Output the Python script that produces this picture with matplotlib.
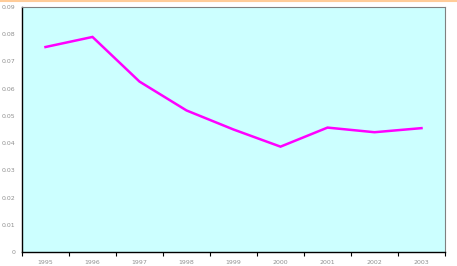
import matplotlib
matplotlib.use('Agg')
from matplotlib import pyplot as plt
from matplotlib.lines import Line2D

# Data
years = ['1995', '1996', '1997', '1998', '1999', '2000', '2001', '2002', '2003']
values = [0.0753, 0.0790, 0.0626, 0.0520, 0.0450, 0.0387, 0.0457, 0.0440, 0.0455]
y_ticks = [0, 0.01, 0.02, 0.03, 0.04, 0.05, 0.06, 0.07, 0.08, 0.09]
y_labels = ['0', '0.01', '0.02', '0.03', '0.04', '0.05', '0.06', '0.07', '0.08', '0.09']

fig = plt.figure(figsize=(4.57, 2.66), dpi=100)
ax = fig.add_axes([22 / 457, 14 / 266, 423 / 457, 245 / 266])
ax.set_facecolor('#CCFFFF')

x = list(range(len(years)))
ax.plot(x, values, color='#FF00FF', linewidth=1.8, solid_joinstyle='miter')

ax.set_xlim(-0.5, len(years) - 0.5)
ax.set_ylim(0, 0.09)

# category ticks sit on the boundaries, labels in the middle
ax.set_xticks([i - 0.5 for i in range(len(years) + 1)])
ax.set_xticklabels([])
ax.set_xticks(x, minor=True)
ax.set_xticklabels(years, minor=True, fontsize=4.5, color='#909090')
ax.tick_params(axis='x', which='major', direction='out', length=3, width=0.8, color='black')
ax.tick_params(axis='x', which='minor', length=0, pad=6)

ax.set_yticks(y_ticks)
ax.set_yticklabels(y_labels, fontsize=4.5, color='#909090')
ax.tick_params(axis='y', length=0, pad=5)

ax.spines['left'].set_color('black')
ax.spines['bottom'].set_color('black')
ax.spines['left'].set_linewidth(1)
ax.spines['bottom'].set_linewidth(1)
for side in ['top', 'right']:
    ax.spines[side].set_color('#808080')
    ax.spines[side].set_linestyle((0, (1, 1)))
    ax.spines[side].set_linewidth(0.8)

# thin orange strip along the very top of the image
fig.add_artist(Line2D([0, 1], [0.998, 0.998], color='#FFCC99', linewidth=1.5,
                      transform=fig.transFigure))

fig.savefig('out.png', dpi=100)
